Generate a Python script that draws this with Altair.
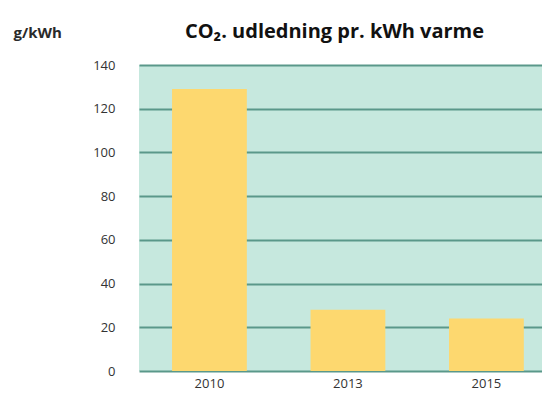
import altair as alt
import pandas as pd

years = ["2010", "2013", "2015"]
values = [129, 28, 24]

df = pd.DataFrame({"year": years, "value": values})

chart = alt.Chart(df).mark_bar(color="#fdd86f").encode(
    x=alt.X("year:N", sort=years,
            scale=alt.Scale(paddingInner=0.46, paddingOuter=0.185, align=0.645),
            axis=alt.Axis(title=None, labelAngle=0, domain=False, ticks=False,
                          labelFontSize=13, labelColor="#333333", labelPadding=6,
                          labelFont="Open Sans")),
    y=alt.Y("value:Q", scale=alt.Scale(domain=[0, 140]),
            axis=alt.Axis(title="g/kWh", titleAngle=0, titleX=-126, titleY=-28,
                          titleAlign="left", titleBaseline="alphabetic",
                          titleFontSize=15, titleFont="Open Sans", titleFontWeight="bold",
                          titleColor="#2a2a2a",
                          values=[0, 20, 40, 60, 80, 100, 120, 140],
                          domain=False, ticks=False, labelPadding=24,
                          labelFontSize=13, labelColor="#333333", labelFont="Open Sans",
                          grid=True, gridColor="#5a988a", gridWidth=1.8)),
).properties(
    width=403, height=306,
    title=alt.TitleParams("CO₂. udledning pr. kWh varme", fontSize=20, font="Open Sans",
                          fontWeight="bold", color="#111111", anchor="middle",
                          offset=-17, dx=-6),
    autosize=alt.AutoSizeParams(type="none"),
    padding={"left": 131, "top": 57, "right": 0, "bottom": 30},
    background="white",
).configure_view(
    fill="#c6e8de", stroke=None
)

chart.save("out.html", embed_options={"renderer": "svg", "actions": False})
